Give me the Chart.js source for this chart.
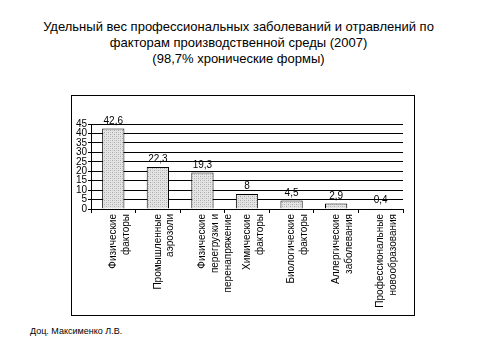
<!DOCTYPE html>
<html><head><meta charset="utf-8">
<script src="https://cdn.jsdelivr.net/npm/chart.js@4"></script>
<style>
html,body{margin:0;padding:0;background:#fff;width:477px;height:360px;overflow:hidden;font-family:"Liberation Sans",Arial,sans-serif;}
#title{position:absolute;left:0;top:19px;width:477px;text-align:center;font-size:13px;line-height:16px;color:#000;}
#frame{position:absolute;left:71px;top:95px;width:342px;height:219px;border:1px solid #000;}
#foot{position:absolute;left:30px;top:326px;font-size:9px;color:#000;}
canvas{display:block;}
</style></head><body>
<div id="title">Удельный вес профессиональных заболеваний и отравлений по<br>факторам производственной среды (2007)<br>(98,7% хронические формы)</div>
<div id="frame"><canvas id="c" width="342" height="219"></canvas></div>
<div id="foot">Доц. Максименко Л.В.</div>
<script>
const categories = [
  ["Физические","факторы"],
  ["Промышленные","аэрозоли"],
  ["Физические","перегрузки и","перенапряжение"],
  ["Химические","факторы"],
  ["Биологические","факторы"],
  ["Аллергические","заболевания"],
  ["Профессиональные","новообразования"]
];
const values = [42.6, 22.3, 19.3, 8, 4.5, 2.9, 0.4];
const valueLabels = ["42,6","22,3","19,3","8","4,5","2,9","0,4"];
const yTicks = [0,5,10,15,20,25,30,35,40,45];

function makePattern(){
  const p = document.createElement('canvas');
  p.width = 4; p.height = 4;
  const g = p.getContext('2d');
  g.fillStyle = '#e4e4e4'; g.fillRect(0,0,4,4);
  g.fillStyle = '#a8a8a8';
  g.fillRect(0,0,1,1); g.fillRect(2,2,1,1);
  g.fillStyle = '#c8c8c8';
  g.fillRect(2,0,1,1); g.fillRect(0,2,1,1);
  return document.getElementById('c').getContext('2d').createPattern(p,'repeat');
}

const valuePlugin = {
  id:'vals',
  afterDatasetsDraw(chart){
    const ctx = chart.ctx;
    const meta = chart.getDatasetMeta(0);
    ctx.save();
    ctx.font = '10px "Liberation Sans", Arial, sans-serif';
    ctx.fillStyle = '#000';
    ctx.textAlign = 'center';
    ctx.textBaseline = 'alphabetic';
    meta.data.forEach((bar,i)=>{
      ctx.fillText(valueLabels[i], bar.x, bar.y - 5);
    });
    ctx.restore();
  }
};

new Chart(document.getElementById('c'), {
  type:'bar',
  data:{
    labels: categories,
    datasets:[{
      data: values,
      backgroundColor: makePattern(),
      borderColor:'#000',
      borderWidth:1,
      barPercentage:0.5,
      categoryPercentage:1.0
    }]
  },
  options:{
    responsive:false,
    animation:false,
    layout:{padding:{top:28,right:11,left:0,bottom:0}},
    plugins:{legend:{display:false},tooltip:{enabled:false},title:{display:false}},
    scales:{
      x:{
        afterFit(axis){ axis.height = 106; },
        grid:{display:true,drawOnChartArea:false,drawTicks:true,tickLength:4,color:'#000',offset:true},
        border:{display:true,color:'#000'},
        ticks:{maxRotation:90,minRotation:90,autoSkip:false,color:'#000',padding:1,
               font:{family:'"Liberation Sans", Arial, sans-serif',size:10,lineHeight:1.28}}
      },
      y:{
        min:0,max:45,
        afterFit(axis){ axis.width = 19; },
        afterBuildTicks(axis){ axis.ticks = yTicks.map(v=>({value:v})); },
        grid:{color:'#000',drawTicks:true,tickLength:3},
        border:{display:true,color:'#000'},
        ticks:{autoSkip:false,color:'#000',padding:1,font:{family:'"Liberation Sans", Arial, sans-serif',size:10}}
      }
    }
  },
  plugins:[valuePlugin]
});
</script>
</body></html>
